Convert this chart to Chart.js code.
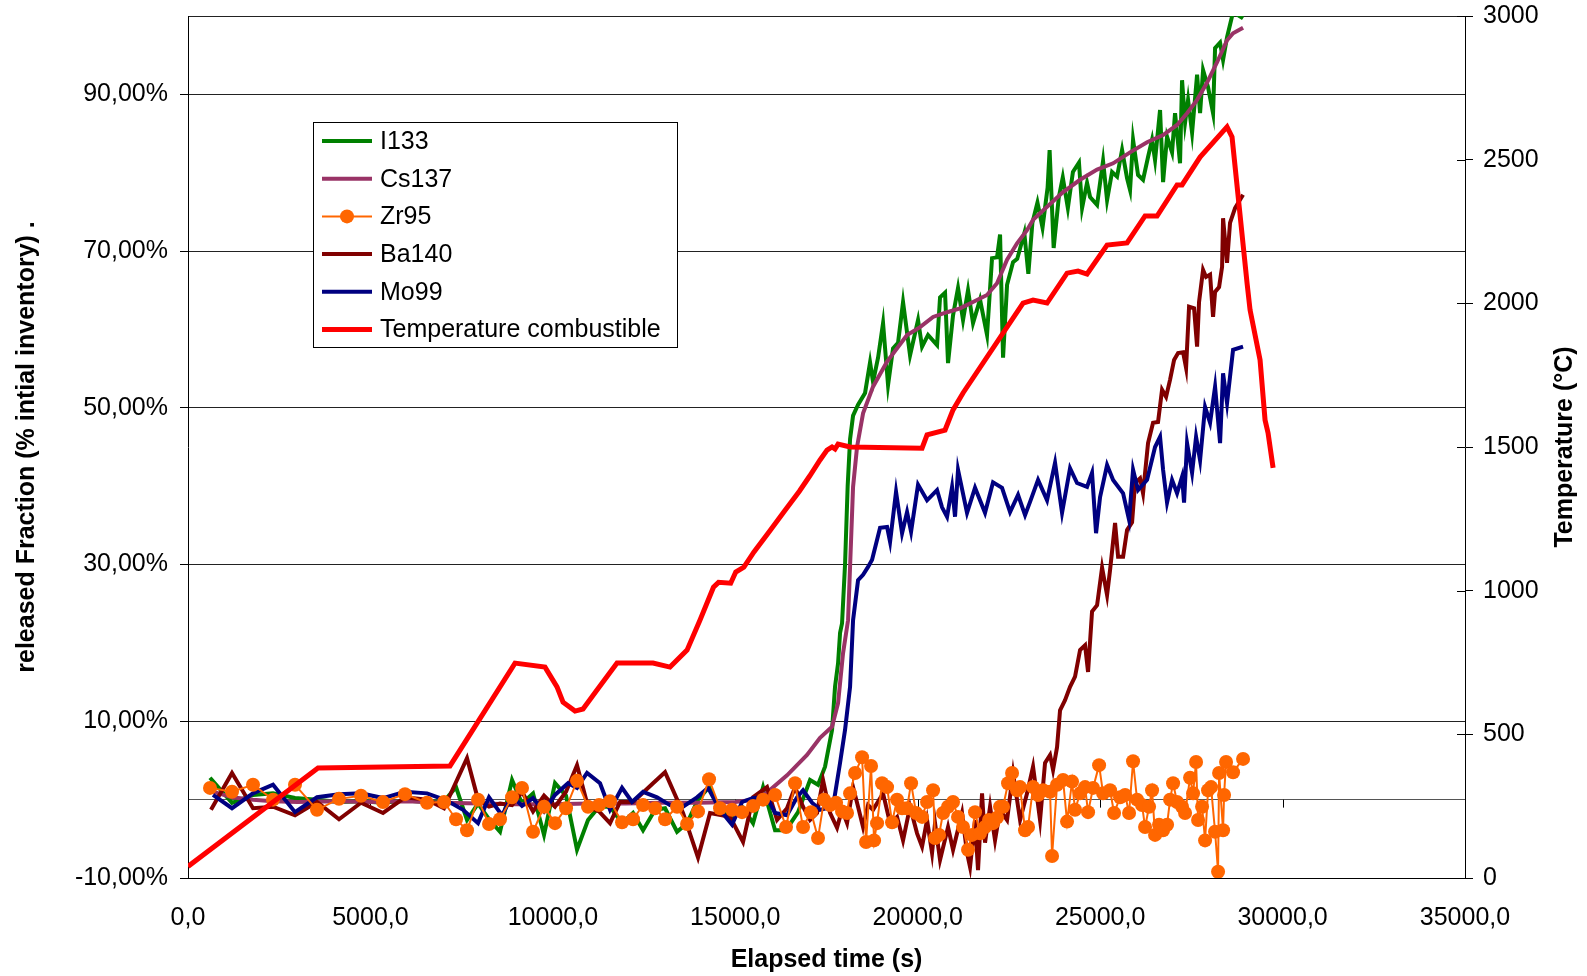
<!DOCTYPE html>
<html>
<head>
<meta charset="utf-8">
<script src="https://cdn.jsdelivr.net/npm/chart.js"></script>
<style>
  body { margin: 0; background: #fff; }
  canvas { display: block; }
</style>
</head>
<body>
<canvas id="chart" width="1587" height="976"></canvas>
<script>
// [time s, released fraction %]
let i133 = [
  [603, 2.8], [1206, -0.4], [1782, 0.6], [2330, 0.8], [2933, 0.2], [3536, 0], [4139, -0.3], [4742, -0.2],
  [5345, -0.4], [5948, -0.1], [6551, -0.3], [7017, -0.2], [7346, 1.6], [7647, -2.6], [7949, -0.5], [8250, -2.5],
  [8552, -4.1], [8881, 2.5], [9155, -0.5], [9457, 0.8], [9758, -4.5], [10059, 2.1], [10361, 0.5], [10662, -6.4],
  [10964, -2.6], [11265, -0.9], [11567, -0.9], [11896, -3], [12198, -1.7], [12472, -3.9], [12801, -1.3], [13075, -1.1],
  [13404, -4.1], [13678, -3], [13979, 0], [14281, 1.6], [14582, -1.3], [14911, -2.6], [15185, -0.9], [15487, -3],
  [15761, 1.6], [16090, -3.9], [16391, -3.9], [16720, -1.6], [17049, 2.5], [17268, 1.9], [17460, 4.2], [17652, 8.9],
  [17734, 14.4], [17817, 17.4], [17872, 21.3], [17926, 22.5], [18008, 30], [18080, 40], [18146, 46], [18228, 49],
  [18365, 50.4], [18557, 51.9], [18694, 55.8], [18776, 53.3], [18913, 56.4], [19050, 60.8], [19187, 52.9], [19324, 57.6],
  [19461, 58.3], [19598, 63.5], [19790, 56.7], [20009, 61.2], [20119, 57.8], [20283, 59.3], [20530, 58], [20612, 64.1],
  [20749, 64.7], [20831, 55.7], [20968, 61.8], [21105, 65.3], [21242, 61.2], [21379, 65], [21516, 60.8], [21708, 63.8],
  [21900, 59.3], [22037, 69.1], [22174, 69.2], [22257, 72.1], [22339, 56.4], [22449, 65.7], [22613, 68.6], [22727, 69],
  [22922, 72.3], [23032, 67.1], [23143, 73.6], [23282, 76.2], [23421, 73], [23560, 78.1], [23615, 82.9], [23726, 70.4],
  [23865, 76.8], [23976, 79.4], [24115, 75.5], [24254, 80.1], [24420, 81.3], [24505, 75.5], [24641, 78.7], [24724, 76.9],
  [24916, 75.9], [25080, 81.5], [25190, 76.5], [25327, 80.1], [25464, 79.5], [25601, 82.9], [25738, 79.3], [25820, 77.8],
  [25902, 84.2], [26039, 79.7], [26176, 79.1], [26313, 82], [26423, 84.2], [26505, 81.6], [26642, 88], [26725, 78.8],
  [26834, 84.6], [26971, 82.6], [27053, 87.6], [27190, 81.2], [27245, 91.8], [27328, 86.4], [27410, 89.3], [27520, 85.1],
  [27657, 92.5], [27739, 87.6], [27821, 93.1], [27958, 90.9], [28095, 87.6], [28150, 95.9], [28287, 96.6], [28369, 94.4],
  [28478, 97.3], [28643, 100.5], [28917, 99.7]
];

let cs137 = [
  [700, 1.0], [1206, 0.3], [1782, 0], [2330, -0.2], [3000, -0.3], [4000, -0.2], [5000, -0.3], [6000, -0.2],
  [7000, -0.4], [8000, -0.5], [9000, -0.6], [10000, -0.6], [11000, -0.5], [12000, -0.5], [13000, -0.4], [14000, -0.4],
  [15000, -0.3], [15500, 0], [15870, 0.9], [16418, 3.1], [16966, 5.7], [17323, 7.9], [17652, 9.3], [17817, 12.3],
  [17954, 18.7], [18091, 22.9], [18228, 39.9], [18337, 45], [18502, 49.3], [18776, 52.7], [19160, 55.9], [19708, 59.3],
  [20064, 60.3], [20421, 61.6], [20804, 62.2], [21160, 62.7], [21516, 63.5], [21900, 64.4], [22174, 65.9], [22449, 68.9],
  [22723, 71], [23000, 72.7], [23161, 74], [23976, 77.5], [24450, 79.1], [24916, 80.4], [25355, 81.2], [25820, 82.6],
  [26286, 83.9], [26725, 84.8], [27108, 86.1], [27382, 87.6], [27657, 89.3], [27931, 91.5], [28205, 94.1], [28478, 96.9],
  [28643, 97.8], [28917, 98.5]
];

let zr95 = [
  [603, 1.5], [1206, 1], [1782, 1.9], [2330, 0], [2933, 1.9], [3536, -1.3], [4139, 0.1], [4742, 0.5],
  [5345, -0.3], [5948, 0.7], [6551, -0.4], [7017, -0.3], [7346, -2.5], [7647, -3.9], [7949, 0], [8250, -3.1],
  [8552, -2.5], [8881, 0.3], [9155, 1.5], [9457, -4.1], [9758, -0.9], [10059, -3], [10361, -1.1], [10662, 2.4],
  [10964, -0.9], [11265, -0.7], [11567, -0.2], [11896, -2.9], [12198, -2.5], [12472, -0.7], [12801, -1.1], [13075, -2.5],
  [13404, -0.9], [13678, -3.1], [13979, -1.5], [14281, 2.6], [14582, -1.1], [14911, -1.3], [15185, -1.6], [15487, -0.8],
  [15761, 0], [16090, 0.6], [16391, -3.5], [16638, 2.1], [16857, -3.5], [17076, -1.6], [17268, -4.9], [17433, 0],
  [17597, -0.7], [17762, -0.4], [17926, -1.5], [18063, -1.7], [18146, 0.8], [18283, 3.4], [18475, 5.4], [18584, -5.4],
  [18721, 4.3], [18804, -5.2], [18886, -3], [19023, 2.1], [19160, 1.6], [19297, -2.9], [19434, 0], [19571, -1.1],
  [19708, -1.1], [19818, 2.1], [19955, -1.7], [20119, -2.2], [20256, -0.3], [20421, 1.2], [20475, -4.9], [20585, -4.5],
  [20695, -1.7], [20831, -0.9], [20968, -0.3], [21105, -2.2], [21242, -3.5], [21379, -6.4], [21489, -4.5], [21571, -1.6],
  [21708, -4.3], [21845, -3.5], [21955, -2.6], [22064, -3], [22174, -2.3], [22257, -0.9], [22339, -0.9], [22476, 2.1],
  [22586, 3.4], [22723, 1.2], [22805, 1.6], [22942, -3.9], [23024, -3.5], [23161, 1.6], [23298, 0.6], [23435, 1.2],
  [23627, 1], [23682, -7.2], [23819, 1.9], [23984, 2.5], [24093, -2.8], [24230, 2.3], [24312, -1.3], [24450, 0.8],
  [24587, 1.6], [24669, -1.6], [24806, 1.5], [24971, 4.4], [25080, 0.8], [25272, 1.2], [25382, -1.7], [25547, 0.3],
  [25684, 0.6], [25793, -1.7], [25902, 4.9], [26012, 0], [26149, -0.7], [26231, -3.5], [26341, -0.9], [26423, 1.2],
  [26505, -4.5], [26615, -3.2], [26725, -3.9], [26834, -3.2], [26917, 0], [26999, 2.1], [27108, -0.3], [27245, -0.9],
  [27328, -1.7], [27465, 2.8], [27547, 0.8], [27629, 4.8], [27684, -2.6], [27794, -0.9], [27876, -5.2], [27958, 1.2],
  [28040, 1.6], [28150, -4.1], [28232, -9.2], [28260, 3.4], [28369, -3.9], [28397, 0.6], [28451, 4.8], [28643, 3.5],
  [28917, 5.2]
];

let ba140 = [
  [630, -1.3], [1206, 3.4], [1782, -1.1], [2330, -0.9], [2933, -2], [3536, -0.3], [4139, -2.5], [4742, -0.4],
  [5345, -1.7], [5948, 0.3], [6551, 0], [7017, -1.1], [7647, 5.3], [7949, 0], [8250, -0.9], [8552, -0.5],
  [8881, -0.7], [9155, 1], [9457, -1.5], [9758, 0.5], [10059, -0.9], [10361, 1], [10662, 4.4], [10964, -0.9],
  [11265, -1.5], [11567, -3], [11841, -0.3], [12198, -0.3], [12746, 2.1], [13075, 3.5], [13568, -1.7], [13979, -7.4],
  [14308, -1.7], [14856, -2.2], [15213, -5.4], [15487, 0.3], [15870, 1.6], [16144, -2.6], [16418, -1.1], [16638, 1.6],
  [16857, -0.9], [17049, -2.6], [17241, -1.7], [17405, 2.5], [17597, -1.7], [17789, -3.6], [17926, -1.3], [18063, -3],
  [18228, 1.6], [18365, -0.9], [18502, -3.5], [18639, -0.7], [18776, -1.3], [19050, 0.8], [19242, -3], [19434, -2.2],
  [19598, -5.2], [19790, -0.9], [19982, -4.3], [20119, -6], [20256, -2.6], [20393, -6.8], [20475, -3], [20612, -7.7],
  [20831, -3.5], [20968, -6.4], [21215, -1.7], [21352, -6.8], [21434, -8.6], [21571, -2.6], [21653, -9], [21763, 0.8],
  [21845, -5.5], [21983, -0.9], [22119, -5.2], [22257, -1.3], [22449, -2.6], [22613, 3.4], [22805, -2.6], [22997, 0.8],
  [23161, 4.2], [23353, -2.6], [23490, 4.7], [23627, 5.7], [23709, 3.8], [23819, 6.7], [23901, 11.4], [24038, 12.7],
  [24175, 14.4], [24312, 15.7], [24450, 19.1], [24587, 19.7], [24669, 16.3], [24778, 24], [24916, 24.8], [25053, 29.6],
  [25190, 26.1], [25272, 29.3], [25409, 35.3], [25492, 31], [25629, 31], [25738, 34.4], [25875, 35.4], [25957, 40.4],
  [26094, 41], [26176, 39.1], [26313, 45.5], [26450, 48.1], [26587, 48.2], [26697, 52.3], [26807, 51.4], [26917, 53.6],
  [27026, 56.1], [27136, 57], [27273, 57.1], [27355, 55.1], [27437, 62.9], [27574, 62.7], [27657, 57.8], [27711, 63.5],
  [27821, 67.6], [27903, 66.7], [28013, 67], [28095, 61.6], [28150, 64.8], [28260, 65.4], [28342, 68], [28369, 74.2],
  [28478, 68.5], [28560, 73.6], [28698, 75.5], [28917, 77.2]
];

let mo99 = [
  [685, 0.6], [1206, -1.1], [1782, 0.8], [2330, 1.9], [2933, -1.6], [3536, 0.3], [4139, 0.7], [4742, 0.8],
  [5345, 0.2], [5948, 1], [6551, 0.8], [6907, 0.2], [7238, -0.5], [7538, -1.3], [7949, -3], [8250, 0.3],
  [8607, -2], [8881, 0.5], [9155, -0.8], [9457, 0.2], [9758, -1.5], [10059, 0.6], [10416, 2.1], [10662, 1.5],
  [10937, 3.4], [11293, 2.1], [11567, -1.3], [11896, 1.5], [12170, -0.3], [12472, 1], [12855, 0.3], [13211, -0.7],
  [13568, -0.9], [13951, 0.3], [14253, 1.5], [14582, -1.3], [14911, -3.2], [15185, -0.3], [15487, 0.2], [15870, 0.3],
  [16090, -1.7], [16418, -2], [16692, 0.3], [16857, 1.2], [17104, -0.4], [17323, -1.3], [17679, -0.9], [17872, 4.7],
  [18008, 8.9], [18146, 14.4], [18228, 22.9], [18365, 28], [18502, 28.7], [18639, 29.7], [18749, 30.6], [18968, 34.7],
  [19160, 34.8], [19242, 32.9], [19406, 39.3], [19571, 34], [19708, 36.7], [19818, 34.2], [20009, 40.2], [20256, 38.2],
  [20530, 39.5], [20667, 37.3], [20804, 36.1], [20941, 39.9], [21023, 36.1], [21105, 42.1], [21352, 36.6], [21571, 39.8],
  [21845, 36.6], [22064, 40.5], [22311, 39.8], [22531, 36.7], [22750, 38.9], [22942, 36.3], [23079, 38], [23298, 40.8],
  [23545, 38.2], [23764, 43], [23956, 36.6], [24175, 42.3], [24367, 40.4], [24641, 39.9], [24778, 41.7], [24888, 34],
  [24998, 38.6], [25190, 42.7], [25355, 40.8], [25629, 39.1], [25793, 35.7], [25902, 42.1], [26039, 39.5], [26286, 40.8],
  [26505, 45], [26642, 46.3], [26725, 42.1], [26834, 37.9], [26971, 40.8], [27108, 39.1], [27245, 41.2], [27300, 37.9],
  [27382, 45.5], [27520, 41.7], [27629, 46.3], [27739, 43.3], [27876, 50.1], [28013, 48.1], [28150, 52.7], [28287, 45.5],
  [28369, 54.4], [28478, 50.6], [28643, 57.4], [28917, 57.8]
];

// [time s, temperature °C]
let tempFuel = [
  [0, 40], [3563, 383], [7181, 390], [8963, 748], [9785, 734], [10114, 665], [10279, 612], [10608, 581],
  [10827, 588], [11210, 654], [11759, 748], [12746, 748], [13211, 734], [13678, 793], [14034, 898], [14402, 1012],
  [14541, 1029], [14874, 1026], [15013, 1065], [15235, 1082], [15512, 1135], [15929, 1205], [16345, 1276], [16761, 1347],
  [17039, 1399], [17323, 1455], [17515, 1489], [17652, 1500], [17734, 1493], [17817, 1510], [18146, 1500], [20119, 1496],
  [20256, 1542], [20749, 1559], [20968, 1629], [21242, 1688], [22887, 2001], [23161, 2011], [23545, 2001], [24093, 2105],
  [24394, 2112], [24641, 2102], [25190, 2203], [25738, 2210], [26231, 2304], [26560, 2304], [27108, 2412], [27245, 2412],
  [27739, 2509], [28478, 2614], [28615, 2579], [29027, 2070], [29109, 1977], [29383, 1803], [29520, 1594], [29602, 1549],
  [29740, 1427]
];

let fracTicks = [-10, 0, 10, 30, 50, 70, 90, 100];
let unlabelledFrac = [0, 100];

let FONT = "'Liberation Sans', Arial, sans-serif";
Chart.defaults.font.family = FONT;
Chart.defaults.font.size = 25;
Chart.defaults.color = "#000";

function pts(list) {
  return list.map(p => ({ x: p[0], y: p[1] }));
}

function fmtPercent(v) {
  return v.toFixed(2).replace(".", ",") + "%";
}

let series = [
  { label: "I133", data: i133, color: "#008000", width: 4, order: 5 },
  { label: "Cs137", data: cs137, color: "#993366", width: 4, order: 4 },
  { label: "Zr95", data: zr95, color: "#FF6600", width: 2, order: 1, marker: true },
  { label: "Ba140", data: ba140, color: "#800000", width: 4, order: 3 },
  { label: "Mo99", data: mo99, color: "#000080", width: 4, order: 2 },
  { label: "Temperature combustible", data: tempFuel, color: "#FF0000", width: 5, order: 0, axis: "y2" }
];

let datasets = series.map(s => ({
  label: s.label,
  data: pts(s.data),
  borderColor: s.color,
  backgroundColor: s.color,
  borderWidth: s.width,
  pointRadius: s.marker ? 7 : 0,
  pointBorderWidth: 0,
  pointBackgroundColor: s.color,
  tension: 0,
  order: s.order,
  yAxisID: s.axis || "y"
}));

// zero line tick marks, right axis inner ticks, right title, legend
let extras = {
  id: "extras",
  beforeDatasetsDraw(chart) {
    let c = chart.ctx;
    let x = chart.scales.x, y = chart.scales.y, y2 = chart.scales.y2;
    let y0 = y.getPixelForValue(0);
    c.save();
    c.strokeStyle = "#000";
    c.lineWidth = 1;
    c.beginPath();
    for (let t = 5000; t < 35000; t += 5000) {
      let px = Math.round(x.getPixelForValue(t)) + 0.5;
      c.moveTo(px, y0);
      c.lineTo(px, y0 + 8);
    }
    y2.ticks.forEach(tk => {
      let py = Math.round(y2.getPixelForValue(tk.value)) + 0.5;
      c.moveTo(y2.left - 8, py);
      c.lineTo(y2.left, py);
    });
    c.stroke();
    c.restore();
  },
  afterDraw(chart) {
    let c = chart.ctx;
    c.save();
    // right axis title, reading bottom to top
    c.translate(1565, (chart.chartArea.top + chart.chartArea.bottom) / 2);
    c.rotate(-Math.PI / 2);
    c.font = "bold 25px " + FONT;
    c.fillStyle = "#000";
    c.textAlign = "center";
    c.textBaseline = "middle";
    c.fillText("Temperature (°C)", 0, 0);
    c.restore();

    // legend box
    c.save();
    c.fillStyle = "#fff";
    c.fillRect(313, 122, 364, 225);
    c.strokeStyle = "#000";
    c.lineWidth = 1;
    c.strokeRect(313.5, 122.5, 364, 225);
    c.font = "25px " + FONT;
    c.textBaseline = "middle";
    c.textAlign = "left";
    series.forEach((s, i) => {
      let ly = 141 + i * 37.7;
      c.strokeStyle = s.color;
      c.lineWidth = s.width;
      c.beginPath();
      c.moveTo(322, ly);
      c.lineTo(372, ly);
      c.stroke();
      if (s.marker) {
        c.fillStyle = s.color;
        c.beginPath();
        c.arc(347, ly, 7, 0, Math.PI * 2);
        c.fill();
      }
      c.fillStyle = "#000";
      c.fillText(s.label, 380, ly + 1);
    });
    c.restore();
  }
};

function fixVertical(width) {
  return s => {
    s.width = width;
    s.paddingTop = 0;
    s.paddingBottom = 0;
  };
}

new Chart(document.getElementById("chart"), {
  type: "line",
  data: { datasets: datasets },
  plugins: [extras],
  options: {
    responsive: false,
    animation: false,
    layout: { padding: { top: 16 } },
    plugins: {
      legend: { display: false },
      tooltip: { enabled: false }
    },
    scales: {
      x: {
        type: "linear",
        position: "bottom",
        min: 0,
        max: 35000,
        ticks: {
          stepSize: 5000,
          maxRotation: 0,
          autoSkip: false,
          padding: 25,
          callback: v => v.toFixed(1).replace(".", ",")
        },
        grid: { display: false, drawTicks: false },
        border: { color: "#000", width: 1 },
        title: {
          display: true,
          text: "Elapsed time (s)",
          font: { size: 25, weight: "bold" },
          padding: { top: 0, bottom: 1 }
        },
        afterFit: s => { s.height = 98; }
      },
      y: {
        position: "left",
        min: -10,
        max: 100,
        afterBuildTicks: s => { s.ticks = fracTicks.map(v => ({ value: v })); },
        ticks: {
          padding: 12,
          autoSkip: false,
          callback: v => unlabelledFrac.includes(v) ? "" : fmtPercent(v)
        },
        grid: {
          color: ctx => ctx.tick && ctx.tick.value === 0 ? "#555" : "#222",
          tickColor: ctx => ctx.tick && unlabelledFrac.includes(ctx.tick.value) ? "rgba(0,0,0,0)" : "#000",
          tickLength: 8,
          lineWidth: 1
        },
        border: { color: "#000", width: 1 },
        title: {
          display: true,
          text: "released Fraction (% intial inventory) .",
          font: { size: 25, weight: "bold" },
          padding: { top: 12, bottom: 0 }
        },
        afterFit: fixVertical(188)
      },
      y2: {
        position: "right",
        min: 0,
        max: 3000,
        ticks: { stepSize: 500, padding: 10, callback: v => String(v) },
        grid: { drawOnChartArea: false, tickLength: 8, color: "#000" },
        border: { color: "#000", width: 1 },
        afterFit: fixVertical(122)
      }
    }
  }
});
</script>
</body>
</html>
